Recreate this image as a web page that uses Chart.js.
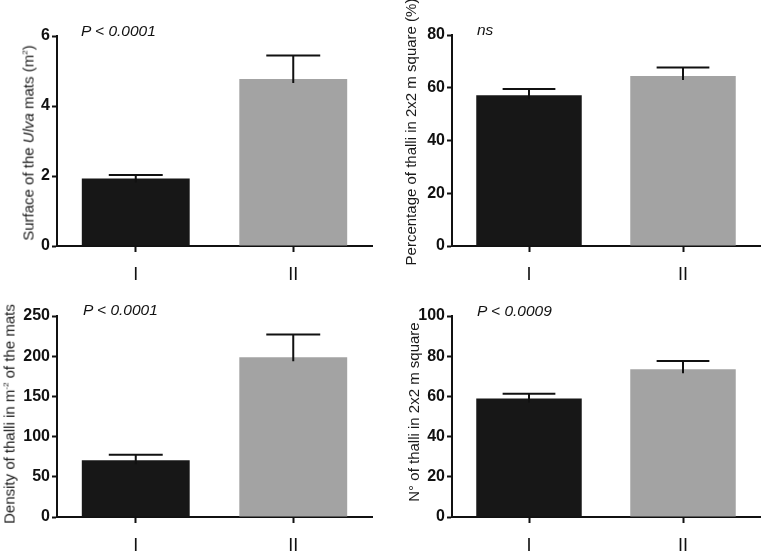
<!DOCTYPE html>
<html>
<head>
<meta charset="utf-8">
<script src="https://cdn.jsdelivr.net/npm/chart.js@4.4.1/dist/chart.umd.min.js"></script>
<style>
	body { margin: 0; background: #fff; }
	#page { position: relative; width: 761px; height: 552px; overflow: hidden; font-family: "Liberation Sans", Arial, sans-serif; }
	canvas { position: absolute; }
	.ytitle { position: absolute; white-space: nowrap; font-size: 15px; color: #1a1a1a; transform: translate(-50%, -50%) rotate(-90deg); }
	.ytitle sup { font-size: 8px; }
	.note { position: absolute; white-space: nowrap; font-size: 15.5px; font-style: italic; color: #111; transform: translateY(-50%); }
</style>
</head>
<body>
<div id="page">
	<canvas id="surfaceChart" width="380" height="280" style="left:0;top:0"></canvas>
	<canvas id="percentChart" width="381" height="280" style="left:380px;top:0"></canvas>
	<canvas id="densityChart" width="380" height="272" style="left:0;top:280px"></canvas>
	<canvas id="countChart" width="381" height="272" style="left:380px;top:280px"></canvas>

	<div class="ytitle" style="left:28px;top:143px">Surface of the <i>Ulva</i> mats (m<sup>2</sup>)</div>
	<div class="ytitle" style="left:410px;top:132px">Percentage of thalli in 2x2 m square (%)</div>
	<div class="ytitle" style="left:9px;top:414px">Density of thalli in m<sup>-2</sup> of the mats</div>
	<div class="ytitle" style="left:413px;top:412px">N° of thalli in 2x2 m square</div>

	<div class="note" style="left:81px;top:31px">P &lt; 0.0001</div>
	<div class="note" style="left:477px;top:30px">ns</div>
	<div class="note" style="left:83px;top:310px">P &lt; 0.0001</div>
	<div class="note" style="left:477px;top:311px">P &lt; 0.0009</div>
</div>
<script>
const categories = ["I", "II"];
const barColors = ["#171717", "#a3a3a3"];

const surfaceMeans = [1.93, 4.77];
const surfaceErrors = [0.10, 0.67];

const percentMeans = [57.2, 64.5];
const percentErrors = [2.3, 3.2];

const densityMeans = [70.5, 198.6];
const densityErrors = [7.0, 28.4];

const countMeans = [59.0, 73.5];
const countErrors = [2.3, 4.1];

Chart.defaults.font.family = '"Liberation Sans", Arial, sans-serif';
Chart.defaults.color = "#111";

// upper error bars with a cap, drawn from the y scale
const errorBarPlugin = {
	id: "errorBars",
	afterDatasetsDraw: function (chart) {
		const ctx = chart.ctx;
		const yScale = chart.scales.y;
		const dataset = chart.data.datasets[0];
		const meta = chart.getDatasetMeta(0);

		ctx.save();
		ctx.strokeStyle = "#111";
		ctx.lineWidth = 2;
		meta.data.forEach(function (bar, i) {
			const value = dataset.data[i];
			const top = yScale.getPixelForValue(value + dataset.errors[i]);
			const bottom = yScale.getPixelForValue(value) + 4;
			const halfCap = bar.width * 0.25;
			ctx.beginPath();
			ctx.moveTo(bar.x, bottom);
			ctx.lineTo(bar.x, top);
			ctx.moveTo(bar.x - halfCap, top);
			ctx.lineTo(bar.x + halfCap, top);
			ctx.stroke();
		});
		ctx.restore();
	}
};

function makeBarChart(canvasId, means, errors, yMax, yStep, area) {
	const canvas = document.getElementById(canvasId);
	return new Chart(canvas, {
		type: "bar",
		data: {
			labels: categories,
			datasets: [
				{
					data: means,
					errors: errors,
					backgroundColor: barColors,
					borderWidth: 0,
					categoryPercentage: 1,
					barPercentage: 0.685
				}
			]
		},
		options: {
			responsive: false,
			animation: false,
			devicePixelRatio: 1,
			layout: {
				padding: { top: area.top, right: area.right, left: 0, bottom: 0 }
			},
			plugins: {
				legend: { display: false },
				tooltip: { enabled: false }
			},
			scales: {
				x: {
					grid: { offset: false, drawOnChartArea: false, tickLength: 6, tickColor: "#111", tickWidth: 2 },
					border: { color: "#111", width: 2 },
					ticks: { padding: 12, color: "#111", font: { size: 18 } },
					afterFit: function (scale) {
						scale.height = area.xHeight;
					}
				},
				y: {
					min: 0,
					max: yMax,
					grid: { drawOnChartArea: false, tickLength: 5, tickColor: "#111", tickWidth: 2 },
					border: { color: "#111", width: 2 },
					ticks: { stepSize: yStep, padding: 2, color: "#111", font: { size: 16, weight: "bold" } },
					afterFit: function (scale) {
						scale.width = area.left;
					}
				}
			}
		},
		plugins: [errorBarPlugin]
	});
}

makeBarChart("surfaceChart", surfaceMeans, surfaceErrors, 6, 2, { left: 57, right: 8, top: 36, xHeight: 34 });
makeBarChart("percentChart", percentMeans, percentErrors, 80, 20, { left: 72, right: 1, top: 35, xHeight: 34 });
makeBarChart("densityChart", densityMeans, densityErrors, 250, 50, { left: 57, right: 8, top: 36, xHeight: 35 });
makeBarChart("countChart", countMeans, countErrors, 100, 20, { left: 72, right: 1, top: 36, xHeight: 35 });
</script>
</body>
</html>
